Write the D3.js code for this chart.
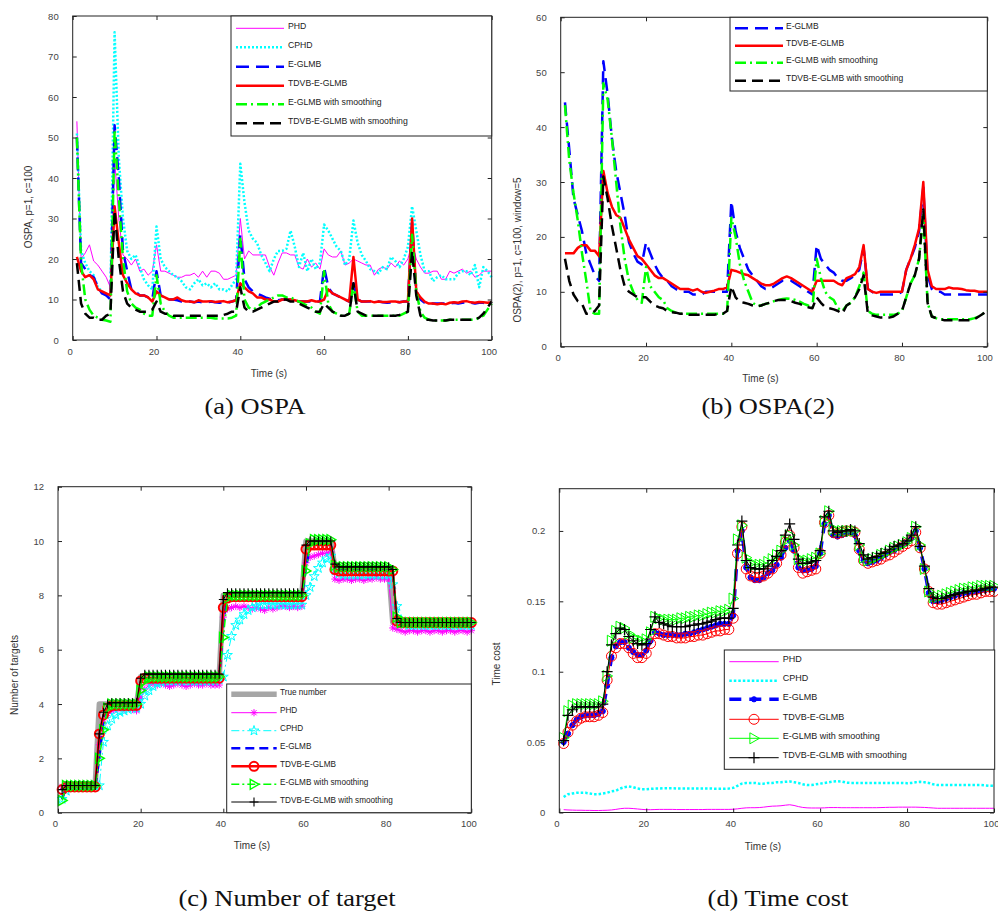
<!DOCTYPE html>
<html>
<head>
<meta charset="utf-8">
<script src="https://cdn.jsdelivr.net/npm/d3@7"></script>
<style>
  body { margin: 0; background: #fff; }
  svg { display: block; }
</style>
</head>
<body>
<div id="chart"></div>
<script>
var vWidth = 998;
var vHeight = 913;

// time steps (s)
var time = d3.range(1, 101);
var xTicks = [0, 20, 40, 60, 80, 100];

// ---------- (a) OSPA ----------
var aYTicks = [0, 10, 20, 30, 40, 50, 60, 70, 80];
var aPHD = [
  54, 20, 21.5, 23.5, 19.5, 18.5, 17, 15.5, 13, 45,
  30, 21, 20, 18.5, 20, 17, 17.5, 16, 17, 23.5,
  17, 17, 16.5, 16, 15.5, 15.5, 16, 16, 16.5, 15.5,
  17, 15.5, 17, 17, 16.5, 15, 15, 15.5, 16, 30,
  20, 22, 21, 21, 21, 21, 18, 16, 19, 21.5,
  21.5, 21, 21, 18, 17.5, 20, 18, 19, 17.5, 22.5,
  21, 20.5, 20.5, 22, 18.5, 19, 20, 19.5, 19, 18.5,
  18.5, 16, 17.5, 18, 17.5, 19, 18, 19.5, 18.5, 20,
  24, 20, 18, 16.5, 16.5, 17, 17, 15, 15, 17,
  16.5, 17, 17.5, 16.5, 17, 15.5, 16, 17, 17, 17
];
var aCPHD = [
  51, 22, 19, 17, 16, 13, 12, 11, 11, 76,
  45, 30, 22, 20, 21, 18, 15, 13.5, 12.5, 28,
  20, 18, 17, 16, 15.5, 14.5, 13, 12.5, 14, 15,
  13.5, 14, 13, 14, 12.5, 12.5, 12, 13.5, 15, 43.5,
  34, 27, 25, 24, 21, 19, 17, 20, 22, 22,
  22.5, 27, 23, 18, 21.5, 17, 20, 17.5, 19, 28.5,
  27, 25, 23, 22, 18.5, 20, 29.5, 24, 21, 19.5,
  17.5, 17, 16.5, 18, 17.5, 20.5, 19.5, 18, 20, 23,
  33, 27, 21, 17, 17, 14.5, 15.5, 16, 15, 15,
  15, 16.5, 17, 17, 16, 18.5, 13, 18, 17, 15.5
];
var aEGLMB = [
  50, 19, 17.5, 16, 15.5, 13, 11.5, 11, 10, 53,
  40, 22, 17, 12.5, 12, 11, 11, 10.5, 10, 17,
  11, 10.5, 10, 10, 9.8, 9.5, 9.5, 9.5, 9.3, 9.5,
  9.3, 9.3, 9.5, 9.3, 9.2, 9.3, 9.2, 9.5, 9.8, 26,
  15, 13, 12, 11.5, 11, 10.5, 10.2, 10, 9.8, 10,
  10, 10, 9.8, 9.5, 9.5, 9.5, 9.5, 9.5, 9.5, 18,
  13, 11.5, 11, 10.5, 10, 9.5, 14, 10, 9.5, 9.5,
  9.5, 9.3, 9.5, 9.3, 9.2, 9.3, 9.5, 9.3, 9.5, 9.5,
  29, 12, 10, 9.2, 9, 9, 9, 9, 9, 9,
  9.2, 9, 9.2, 9.3, 9.2, 9, 9.2, 9.2, 9, 9
];
var aTDVB = [
  20.5, 17, 15.5, 16, 15, 12.5, 12, 11.5, 11, 33,
  24, 16, 14, 12.5, 11.5, 11, 11, 10.5, 9.5, 12,
  11, 10.5, 10, 10, 10.5, 9.8, 9.5, 9.5, 9.3, 9.8,
  9.5, 9.5, 9.6, 9.4, 9.5, 9.6, 9.3, 9.5, 9.8, 14,
  13, 12, 11.5, 10.5, 10.5, 10, 10, 9.5, 9.5, 10,
  10, 10, 9.8, 9.5, 9.5, 9.5, 9.8, 9.5, 9.5, 10,
  12.5, 11.5, 11, 10.5, 10, 9.5, 20.5, 10, 9.5, 9.5,
  9.6, 9.3, 9.5, 9.4, 9.4, 9.5, 9.5, 9.3, 9.5, 9.5,
  30, 12, 10.5, 9.5, 9, 9, 8.8, 9, 8.8, 9.2,
  9.3, 9.2, 9.5, 9.6, 9.3, 9.2, 9.4, 9.3, 9.2, 9.3
];
var aEGLMBs = [
  50, 19, 10, 7.5, 6, 5.5, 5, 4.8, 4.5, 52,
  35, 20, 12, 9, 8, 7.5, 6.5, 6, 6, 16,
  9, 7, 6, 5.5, 5.5, 5.5, 5.5, 5.5, 5.5, 5.5,
  5.5, 5.5, 5.5, 5.3, 5.3, 5.3, 5.3, 5.5, 6, 25,
  10, 8, 7.5, 8, 9, 9.5, 10, 10.5, 11, 11,
  10.5, 10.5, 10, 9.5, 9, 8.5, 8, 7, 6.5, 17,
  9, 7, 6.5, 6, 6, 6.5, 14, 7, 6, 6,
  6, 6, 6, 6, 6, 6, 6, 6, 6.5, 7,
  26, 12, 7, 5.5, 5, 4.8, 4.8, 4.8, 4.8, 5,
  5, 5, 5, 5, 5, 5, 5.5, 6, 7.5, 9
];
var aTDVBs = [
  19, 9, 6.5, 5.5, 5.5, 5, 5, 6, 6.5, 32,
  20, 12, 9, 8, 7.5, 7, 7, 7, 7.5, 9.5,
  7, 6.5, 6.5, 6, 6, 6, 6, 6, 6, 6,
  6, 6, 6, 6, 6, 6.2, 6.5, 7, 7, 13,
  8, 7, 7, 7.5, 8, 8.5, 9, 9.5, 9.5, 10,
  10, 9.5, 9.5, 9, 8.5, 8, 7.5, 7, 7, 9,
  8, 7, 6.5, 6, 6, 6.5, 14, 7, 6.5, 6,
  6, 6, 6, 6, 6, 6, 6, 6.2, 6.5, 7,
  22, 11, 6, 5, 5, 4.8, 4.8, 4.8, 4.8, 5,
  5, 5, 5, 5, 5, 5, 5.5, 6.5, 8, 9.5
];

// ---------- (b) OSPA(2) ----------
var bYTicks = [0, 10, 20, 30, 40, 50, 60];
var bEGLMB = [
  44.5, 36, 27, 24, 21, 17, 15, 13, 12, 52,
  46, 38, 32, 28, 24, 19, 17, 15.5, 15, 19,
  17, 15, 13.5, 12.5, 12, 11, 10.5, 10, 10, 10,
  9.5, 9.5, 9.5, 10, 10, 10, 10, 10, 10, 26.5,
  21, 18, 16, 14, 13, 12, 11, 10.5, 10.5, 11,
  11.5, 12, 12, 12, 11.5, 11, 10.5, 10, 9.5, 18.5,
  16, 15, 14, 13.5, 12.5, 12, 12, 12.5, 13, 14,
  18, 10.5, 10, 9.5, 9.5, 9.5, 9.5, 9.5, 9.5, 10,
  14, 16, 18, 21, 29, 13, 10.5, 10, 10, 9.5,
  9.5, 9.5, 9.5, 9.5, 9.5, 9.5, 9.5, 9.5, 9.5, 9.5
];
var bTDVB = [
  17, 17, 17, 18, 18.5, 18.5, 17.5, 17.5, 16.5, 32,
  28, 25.5, 24, 23.5, 21.5, 19.5, 18, 16.5, 16, 15,
  14, 13, 12.5, 12.5, 12, 11.5, 11, 10.5, 10.5, 10.5,
  10.2, 10.5, 10, 9.8, 10, 10.2, 10.5, 10.5, 10.8, 14,
  13.8, 13.5, 13.2, 13, 12.5, 12, 11.5, 11.2, 11.2, 11.5,
  12, 12.5, 12.8, 12.5, 12, 11.5, 11, 10.5, 10, 12,
  12, 12, 12, 12, 11.5, 11.2, 12.5, 12.8, 13.2, 14.5,
  18.5, 10.5, 10, 9.8, 10, 10, 10, 10, 10, 10,
  14, 16, 18.5, 21.5, 30, 14, 11, 10.5, 10.5, 10.5,
  10.8, 10.6, 10.6, 10.5, 10.3, 10.2, 10.2, 10, 10, 10
];
var bEGLMBs = [
  44, 34, 28, 23, 17, 12, 6.5, 6, 6, 48,
  45, 38, 30, 22, 16, 12, 10, 8.5, 8, 14.5,
  11, 10, 9, 8.5, 7, 6.5, 6.2, 6, 6, 6,
  6, 6, 6, 6, 6, 6, 6, 6, 6.2, 23.5,
  20, 15, 12, 10, 8, 7.5, 7.5, 7.8, 8, 8.3,
  8.5, 8.7, 8.8, 8.7, 8.5, 8.2, 7.8, 7.5, 7, 16,
  12.5, 10, 9, 8.5, 7, 6.5, 7.5, 8, 9, 11,
  13.5, 6.5, 6, 5.8, 5.8, 5.8, 5.8, 5.8, 6, 6.5,
  9, 11.5, 13, 16, 24, 8, 5.5, 5.2, 5, 5,
  5, 5, 5, 5, 5, 5, 5.2, 5.5, 6, 6.5
];
var bTDVBs = [
  16, 12, 9.5, 8.3, 7.8, 6, 6, 6.5, 7.5, 31,
  27, 22, 18, 14, 11, 10, 9.5, 9, 9, 9,
  8.2, 7.5, 7.2, 7, 6.5, 6.3, 6.2, 6, 6, 5.8,
  5.8, 5.8, 5.8, 5.8, 5.8, 5.8, 6, 6, 6.5, 11,
  9, 8.2, 8, 7.8, 7.5, 7.3, 7.5, 7.8, 8, 8.3,
  8.5, 8.5, 8.5, 8.3, 8, 7.8, 7.5, 7.2, 7, 9,
  8, 7.2, 7, 6.8, 6.5, 6, 7.5, 8, 9, 10.5,
  13, 6, 5.7, 5.5, 5.3, 5.3, 5.3, 5.5, 6, 6.5,
  9, 11.5, 13, 16, 25, 8, 5.5, 5.2, 5, 4.8,
  4.8, 4.8, 4.8, 4.8, 4.8, 4.8, 5, 5.5, 6, 6.8
];

// ---------- (c) Number of targets ----------
var cYTicks = [0, 2, 4, 6, 8, 10, 12];
var cTrue = [
  1, 1, 1, 1, 1, 1, 1, 1, 1, 4,
  4, 4, 4, 4, 4, 4, 4, 4, 4, 5,
  5, 5, 5, 5, 5, 5, 5, 5, 5, 5,
  5, 5, 5, 5, 5, 5, 5, 5, 5, 8,
  8, 8, 8, 8, 8, 8, 8, 8, 8, 8,
  8, 8, 8, 8, 8, 8, 8, 8, 8, 10,
  10, 10, 10, 10, 10, 10, 9, 9, 9, 9,
  9, 9, 9, 9, 9, 9, 9, 9, 9, 9,
  7, 7, 7, 7, 7, 7, 7, 7, 7, 7,
  7, 7, 7, 7, 7, 7, 7, 7, 7, 7
];
var cPHD = [
  0.95, 1.0, 0.95, 0.98, 0.95, 1.0, 0.95, 0.97, 0.98, 2.5,
  3.3, 3.65, 3.75, 3.8, 3.85, 3.8, 3.85, 3.8, 3.75, 4.2,
  4.55, 4.7, 4.75, 4.7, 4.75, 4.7, 4.65, 4.7, 4.75, 4.7,
  4.65, 4.7, 4.75, 4.7, 4.7, 4.75, 4.7, 4.7, 4.7, 7.2,
  7.5, 7.55, 7.6, 7.55, 7.6, 7.55, 7.5, 7.55, 7.5, 7.45,
  7.55, 7.5, 7.55, 7.6, 7.6, 7.55, 7.6, 7.55, 7.6, 9.2,
  9.4, 9.45, 9.5, 9.55, 9.55, 9.6, 8.6, 8.55, 8.6, 8.6,
  8.55, 8.6, 8.6, 8.55, 8.6, 8.6, 8.65, 8.6, 8.6, 8.6,
  6.8, 6.75, 6.7, 6.65, 6.7, 6.7, 6.65, 6.7, 6.7, 6.65,
  6.7, 6.7, 6.65, 6.7, 6.7, 6.65, 6.7, 6.7, 6.65, 6.7
];
var cCPHD = [
  0.5, 0.8, 0.95, 0.95, 0.95, 0.97, 0.95, 0.96, 0.95, 1.0,
  2.6, 3.2, 3.45, 3.6, 3.7, 3.75, 3.8, 3.85, 3.85, 4.0,
  4.3, 4.5, 4.65, 4.75, 4.8, 4.85, 4.85, 4.85, 4.85, 4.85,
  4.85, 4.85, 4.85, 4.85, 4.85, 4.85, 4.85, 4.85, 4.9, 5.0,
  5.8, 6.5, 6.9, 7.1, 7.3, 7.45, 7.55, 7.6, 7.65, 7.65,
  7.65, 7.65, 7.65, 7.65, 7.65, 7.65, 7.65, 7.65, 7.65, 8.0,
  8.3, 8.7, 9.0, 9.2, 9.35, 9.45, 8.9, 8.8, 8.75, 8.75,
  8.75, 8.75, 8.75, 8.75, 8.75, 8.75, 8.75, 8.75, 8.75, 8.75,
  8.4, 7.6, 7.1, 6.95, 6.9, 6.9, 6.9, 6.9, 6.9, 6.9,
  6.9, 6.9, 6.9, 6.9, 6.9, 6.9, 6.9, 6.9, 6.9, 6.9
];
var cEGLMB = [
  0.5, 0.95, 0.95, 0.95, 0.95, 0.95, 0.95, 0.95, 0.95, 2.0,
  3.5, 3.95, 3.95, 3.95, 3.95, 3.95, 3.95, 3.95, 3.95, 4.8,
  4.95, 4.95, 4.95, 4.95, 4.95, 4.95, 4.95, 4.95, 4.95, 4.95,
  4.95, 4.95, 4.95, 4.95, 4.95, 4.95, 4.95, 4.95, 4.95, 7.0,
  7.95, 7.95, 7.95, 7.95, 7.95, 7.95, 7.95, 7.95, 7.95, 7.95,
  7.95, 7.95, 7.95, 7.95, 7.95, 7.95, 7.95, 7.95, 7.95, 9.0,
  9.9, 9.9, 9.9, 9.9, 9.9, 9.9, 8.95, 8.95, 8.95, 8.95,
  8.95, 8.95, 8.95, 8.95, 8.95, 8.95, 8.95, 8.95, 8.95, 8.95,
  8.9, 7.0, 7.0, 7.0, 7.0, 7.0, 7.0, 7.0, 7.0, 7.0,
  7.0, 7.0, 7.0, 7.0, 7.0, 7.0, 7.0, 7.0, 7.0, 7.0
];
var cTDVB = [
  0.85, 0.95, 0.95, 0.95, 0.95, 0.95, 0.95, 0.95, 0.95, 2.9,
  3.6, 3.85, 3.95, 3.95, 3.95, 3.95, 3.95, 3.95, 3.95, 4.85,
  4.95, 4.95, 4.95, 4.95, 4.95, 4.95, 4.95, 4.95, 4.95, 4.95,
  4.95, 4.95, 4.95, 4.95, 4.95, 4.95, 4.95, 4.95, 4.95, 7.55,
  7.9, 7.95, 7.95, 7.95, 7.95, 7.95, 7.95, 7.95, 7.95, 7.95,
  7.95, 7.95, 7.95, 7.95, 7.95, 7.95, 7.95, 7.95, 7.95, 9.7,
  9.85, 9.85, 9.85, 9.85, 9.85, 9.85, 8.95, 8.9, 8.9, 8.9,
  8.9, 8.9, 8.9, 8.9, 8.9, 8.9, 8.9, 8.9, 8.9, 8.9,
  8.9, 7.05, 7.0, 7.0, 7.0, 7.0, 7.0, 7.0, 7.0, 7.0,
  7.0, 7.0, 7.0, 7.0, 7.0, 7.0, 7.0, 7.0, 7.0, 7.0
];
var cEGLMBs = [
  0.45, 1.0, 1.0, 1.0, 1.0, 1.0, 1.0, 1.0, 1.0, 2.0,
  3.05, 3.85, 4.0, 4.0, 4.0, 4.0, 4.0, 4.0, 4.0, 4.5,
  4.85, 5.0, 5.0, 5.0, 5.0, 5.0, 5.0, 5.0, 5.0, 5.0,
  5.0, 5.0, 5.0, 5.0, 5.0, 5.0, 5.0, 5.0, 5.0, 6.45,
  7.9, 8.0, 8.0, 8.0, 8.0, 8.0, 8.0, 8.0, 8.0, 8.0,
  8.0, 8.0, 8.0, 8.0, 8.0, 8.0, 8.0, 8.0, 8.0, 8.9,
  9.9, 10.05, 10.05, 10.05, 10.05, 10.05, 9.1, 9.05, 9.05, 9.05,
  9.05, 9.05, 9.05, 9.05, 9.05, 9.05, 9.05, 9.05, 9.05, 9.05,
  8.95, 7.2, 7.0, 7.0, 7.0, 7.0, 7.0, 7.0, 7.0, 7.0,
  7.0, 7.0, 7.0, 7.0, 7.0, 7.0, 7.0, 7.0, 7.0, 7.0
];
var cTDVBs = [
  0.85, 1.0, 1.0, 1.0, 1.0, 1.0, 1.0, 1.0, 1.0, 2.9,
  3.7, 4.0, 4.05, 4.05, 4.05, 4.05, 4.05, 4.05, 4.05, 4.95,
  5.1, 5.1, 5.1, 5.1, 5.1, 5.1, 5.1, 5.1, 5.1, 5.1,
  5.1, 5.1, 5.1, 5.1, 5.1, 5.1, 5.1, 5.1, 5.1, 7.85,
  8.1, 8.1, 8.1, 8.1, 8.1, 8.1, 8.1, 8.1, 8.1, 8.1,
  8.1, 8.1, 8.1, 8.1, 8.1, 8.1, 8.1, 8.1, 8.1, 9.85,
  10.0, 10.0, 10.0, 10.0, 10.0, 10.0, 9.15, 9.05, 9.05, 9.05,
  9.05, 9.05, 9.05, 9.05, 9.05, 9.05, 9.05, 9.05, 9.05, 9.05,
  8.95, 7.15, 7.0, 7.0, 7.0, 7.0, 7.0, 7.0, 7.0, 7.0,
  7.0, 7.0, 7.0, 7.0, 7.0, 7.0, 7.0, 7.0, 7.0, 7.0
];

// ---------- (d) Time cost ----------
var dYTicks = [0, 0.05, 0.1, 0.15, 0.2];
var dPHD = [
  0.002, 0.0018, 0.0017, 0.0016, 0.0016, 0.0015, 0.0015, 0.0014, 0.0014, 0.0015,
  0.0016, 0.0018, 0.0022, 0.0027, 0.003, 0.003, 0.0028, 0.0025, 0.0022, 0.002,
  0.002, 0.0021, 0.0022, 0.0022, 0.0022, 0.0022, 0.0021, 0.0021, 0.0021, 0.0021,
  0.0021, 0.0021, 0.0021, 0.0022, 0.0022, 0.0022, 0.0022, 0.0022, 0.0022, 0.0023,
  0.0026, 0.003, 0.0033, 0.0034, 0.0034, 0.0035, 0.0038, 0.0042, 0.0045, 0.0046,
  0.0048, 0.0052, 0.0055, 0.005, 0.0042, 0.0036, 0.0033, 0.0032, 0.0032, 0.0032,
  0.0033, 0.0035, 0.0035, 0.0035, 0.0034, 0.0034, 0.0034, 0.0034, 0.0034, 0.0034,
  0.0034, 0.0034, 0.0034, 0.0035, 0.0036, 0.0037, 0.0037, 0.0038, 0.0038, 0.0038,
  0.0038, 0.0038, 0.0037, 0.0036, 0.0034, 0.0032, 0.003, 0.003, 0.003, 0.003,
  0.003, 0.003, 0.003, 0.003, 0.003, 0.003, 0.003, 0.003, 0.003, 0.003
];
var dCPHD = [
  0.011, 0.013, 0.0135, 0.014, 0.014, 0.014, 0.0135, 0.013, 0.013, 0.0135,
  0.014, 0.015, 0.0155, 0.017, 0.018, 0.0185, 0.018, 0.017, 0.0165, 0.0165,
  0.0168, 0.017, 0.017, 0.0172, 0.0172, 0.0172, 0.017, 0.017, 0.017, 0.017,
  0.017, 0.017, 0.017, 0.017, 0.017, 0.0168, 0.0168, 0.0168, 0.017, 0.0175,
  0.019, 0.0205, 0.021, 0.021, 0.021, 0.0205, 0.0205, 0.021, 0.021, 0.0215,
  0.0215, 0.0218, 0.022, 0.0215, 0.021, 0.02, 0.0195, 0.0195, 0.02, 0.0205,
  0.021, 0.0215, 0.022, 0.0222, 0.022, 0.0212, 0.021, 0.021, 0.021, 0.021,
  0.021, 0.021, 0.021, 0.021, 0.021, 0.021, 0.021, 0.021, 0.021, 0.0208,
  0.021, 0.0215, 0.0218, 0.0215, 0.021, 0.02, 0.0195, 0.0195, 0.0195, 0.0195,
  0.0195, 0.0195, 0.0195, 0.0195, 0.0195, 0.0195, 0.0195, 0.0193, 0.019, 0.019
];
var dEGLMB = [
  0.05, 0.056, 0.062, 0.066, 0.068, 0.069, 0.069, 0.069, 0.07, 0.072,
  0.09, 0.11, 0.118, 0.121, 0.121, 0.117, 0.114, 0.112, 0.112, 0.115,
  0.122, 0.128, 0.127, 0.126, 0.126, 0.126, 0.126, 0.126, 0.127, 0.127,
  0.128, 0.129, 0.13, 0.131, 0.132, 0.133, 0.134, 0.134, 0.134, 0.14,
  0.186, 0.2, 0.174, 0.167, 0.165, 0.165, 0.167, 0.17, 0.172, 0.176,
  0.181, 0.188, 0.193, 0.186, 0.174, 0.172, 0.172, 0.173, 0.175, 0.184,
  0.205, 0.211, 0.197, 0.196, 0.197, 0.198, 0.199, 0.197, 0.186, 0.179,
  0.177, 0.178, 0.179, 0.181, 0.183, 0.185, 0.186, 0.188, 0.19, 0.192,
  0.195, 0.2, 0.188, 0.173, 0.156, 0.15, 0.15, 0.151, 0.152, 0.153,
  0.154, 0.155, 0.156, 0.156, 0.157, 0.157, 0.158, 0.158, 0.159, 0.159
];
var dTDVB = [
  0.049, 0.057, 0.062, 0.065, 0.067, 0.068, 0.068, 0.068, 0.069, 0.071,
  0.094, 0.111, 0.117, 0.12, 0.12, 0.117, 0.113, 0.11, 0.11, 0.113,
  0.12, 0.127, 0.127, 0.126, 0.125, 0.125, 0.124, 0.124, 0.124, 0.125,
  0.125, 0.126, 0.126, 0.127, 0.128, 0.129, 0.129, 0.13, 0.13, 0.138,
  0.184, 0.203, 0.173, 0.168, 0.167, 0.167, 0.168, 0.17, 0.173, 0.177,
  0.183, 0.192, 0.197, 0.188, 0.174, 0.17, 0.171, 0.172, 0.173, 0.184,
  0.206, 0.211, 0.199, 0.198, 0.199, 0.2, 0.2, 0.199, 0.187, 0.179,
  0.177, 0.178, 0.179, 0.18, 0.182, 0.183, 0.185, 0.187, 0.189, 0.191,
  0.193, 0.199, 0.188, 0.173, 0.157, 0.149, 0.148, 0.148, 0.149, 0.15,
  0.151, 0.152, 0.153, 0.154, 0.155, 0.155, 0.156, 0.157, 0.157, 0.157
];
var dEGLMBs = [
  0.053, 0.072, 0.076, 0.077, 0.077, 0.077, 0.077, 0.077, 0.077, 0.079,
  0.097, 0.122, 0.129, 0.132, 0.131, 0.127, 0.124, 0.123, 0.122, 0.123,
  0.128, 0.139, 0.138, 0.137, 0.137, 0.137, 0.137, 0.138, 0.138, 0.139,
  0.139, 0.14, 0.14, 0.141, 0.142, 0.142, 0.143, 0.143, 0.144, 0.152,
  0.194, 0.204, 0.181, 0.177, 0.176, 0.176, 0.176, 0.178, 0.18, 0.183,
  0.186, 0.193, 0.197, 0.19, 0.18, 0.179, 0.179, 0.18, 0.181, 0.184,
  0.207, 0.214, 0.201, 0.2, 0.2, 0.2, 0.2, 0.2, 0.19, 0.181,
  0.179, 0.18, 0.181, 0.183, 0.184, 0.186, 0.188, 0.189, 0.19, 0.192,
  0.195, 0.203, 0.19, 0.173, 0.157, 0.153, 0.153, 0.154, 0.155, 0.156,
  0.157, 0.158, 0.159, 0.159, 0.16, 0.16, 0.161, 0.161, 0.161, 0.161
];
var dTDVBs = [
  0.051, 0.069, 0.073, 0.075, 0.075, 0.075, 0.075, 0.075, 0.075, 0.077,
  0.1, 0.119, 0.127, 0.131, 0.13, 0.125, 0.122, 0.12, 0.119, 0.12,
  0.13, 0.139, 0.135, 0.134, 0.133, 0.132, 0.132, 0.132, 0.132, 0.133,
  0.133, 0.134, 0.134, 0.135, 0.136, 0.137, 0.138, 0.138, 0.138, 0.145,
  0.19, 0.207, 0.179, 0.174, 0.173, 0.173, 0.173, 0.175, 0.179, 0.182,
  0.186, 0.197, 0.205, 0.194, 0.18, 0.177, 0.177, 0.178, 0.179, 0.186,
  0.21, 0.214, 0.2, 0.199, 0.2, 0.2, 0.201, 0.2, 0.191, 0.183,
  0.18, 0.181, 0.182, 0.184, 0.185, 0.187, 0.189, 0.19, 0.191, 0.193,
  0.197, 0.203, 0.189, 0.175, 0.159, 0.153, 0.152, 0.152, 0.153, 0.154,
  0.155, 0.156, 0.156, 0.157, 0.157, 0.158, 0.158, 0.159, 0.16, 0.16
];

var svg = d3.select('#chart')
  .append('svg')
  .attr('width', vWidth)
  .attr('height', vHeight)
  .style('font-family', '"Liberation Sans", Arial, sans-serif');

// marker shapes, centred on 0,0
function markerPath(type, s) {
  if (type === 'plus') return 'M' + (-s) + ',0H' + s + 'M0,' + (-s) + 'V' + s;
  if (type === 'asterisk') {
    var k = s * 0.72;
    return 'M' + (-s) + ',0H' + s + 'M0,' + (-s) + 'V' + s +
      'M' + (-k) + ',' + (-k) + 'L' + k + ',' + k + 'M' + (-k) + ',' + k + 'L' + k + ',' + (-k);
  }
  if (type === 'circle' || type === 'dot') return d3.symbol(d3.symbolCircle, Math.PI * s * s)();
  if (type === 'star') return d3.symbol(d3.symbolStar, s * s / 0.8908)();
  if (type === 'tri') return 'M' + (-s * 0.75) + ',' + (-s) + 'L' + s + ',0L' + (-s * 0.75) + ',' + s + 'Z';
  return '';
}

function styleStroke(sel, s) {
  sel.attr('fill', 'none')
    .attr('stroke', s.color)
    .attr('stroke-width', s.width)
    .attr('stroke-dasharray', s.dash || null)
    .attr('stroke-linejoin', 'round');
}

function drawMarkers(g, pts, s) {
  g.append('g').selectAll('path')
    .data(pts)
    .enter()
    .append('path')
    .attr('transform', function (d) { return 'translate(' + d[0] + ',' + d[1] + ')'; })
    .attr('d', markerPath(s.marker, s.msize))
    .attr('fill', s.marker === 'dot' ? s.color : 'none')
    .attr('stroke', s.color)
    .attr('stroke-width', s.mwidth || 1);
}

function drawPanel(p) {
  var x = d3.scaleLinear().domain([0, 100]).range([p.left, p.right]);
  var y = d3.scaleLinear().domain([0, p.yMax]).range([p.bottom, p.top]);
  var g = svg.append('g');

  var line = d3.line().x(function (d) { return x(d.t); }).y(function (d) { return y(d.v); });

  p.series.forEach(function (s) {
    var pts = time.map(function (t, i) { return { t: t, v: s.values[i] }; });
    g.append('path').datum(pts).attr('d', line).call(styleStroke, s);
    if (s.marker) {
      drawMarkers(g, pts.map(function (d) { return [x(d.t), y(d.v)]; }), s);
    }
  });

  // axes, ticks pointing inwards on all four sides
  var fmt = function (d) { return String(d); };
  var ax = g.append('g').attr('transform', 'translate(0,' + p.bottom + ')')
    .call(d3.axisBottom(x).tickValues(xTicks).tickFormat(fmt).tickSize(-4).tickPadding(8));
  ax.selectAll('text').attr('dx', -3);
  g.append('g').attr('transform', 'translate(0,' + p.top + ')')
    .call(d3.axisTop(x).tickValues(xTicks).tickFormat('').tickSize(-4));
  g.append('g').attr('transform', 'translate(' + p.left + ',0)')
    .call(d3.axisLeft(y).tickValues(p.yTicks).tickFormat(fmt).tickSize(-4).tickPadding(14));
  g.append('g').attr('transform', 'translate(' + p.right + ',0)')
    .call(d3.axisRight(y).tickValues(p.yTicks).tickFormat('').tickSize(-4));

  g.selectAll('.domain').remove();
  g.selectAll('.tick line').attr('stroke', '#222');
  g.selectAll('.tick text').attr('fill', '#444').attr('font-size', 9.5)
    .attr('font-family', '"Liberation Sans", Arial, sans-serif');

  g.append('rect')
    .attr('x', p.left).attr('y', p.top)
    .attr('width', p.right - p.left).attr('height', p.bottom - p.top)
    .attr('fill', 'none').attr('stroke', '#222').attr('stroke-width', 1);

  // axis titles
  g.append('text')
    .attr('x', p.xLabel[0]).attr('y', p.xLabel[1])
    .attr('text-anchor', 'middle').attr('font-size', 10).attr('fill', '#333')
    .text('Time (s)');
  g.append('text')
    .attr('transform', 'translate(' + p.yLabel[0] + ',' + p.yLabel[1] + ') rotate(-90)')
    .attr('text-anchor', 'middle').attr('font-size', 10).attr('fill', '#333')
    .text(p.yTitle);

  // legend
  var L = p.legend;
  var lg = g.append('g');
  lg.append('rect')
    .attr('x', L.x0).attr('y', L.y0)
    .attr('width', L.x1 - L.x0).attr('height', L.y1 - L.y0)
    .attr('fill', '#fff').attr('stroke', '#222').attr('stroke-width', 1);
  var entries = p.legendSeries || p.series;
  entries.forEach(function (s, i) {
    var ly = L.rows[i];
    lg.append('line')
      .attr('x1', L.sx0).attr('x2', L.sx1).attr('y1', ly).attr('y2', ly)
      .call(styleStroke, s);
    if (s.marker) drawMarkers(lg, [[(L.sx0 + L.sx1) / 2, ly]], s);
    lg.append('text')
      .attr('x', L.tx).attr('y', ly + 0.5)
      .attr('font-size', L.font).attr('fill', '#222')
      .text(s.name);
  });

  // caption under the panel
  svg.append('text')
    .attr('transform', 'translate(' + p.caption[0] + ',' + p.caption[1] + ') scale(1.1,1)')
    .attr('text-anchor', 'middle')
    .attr('font-family', '"Liberation Serif", "Times New Roman", serif')
    .attr('font-size', 24).attr('fill', '#111')
    .text(p.captionText);
}

// ---- panel (a)
drawPanel({
  left: 72.7, right: 491.7, top: 16, bottom: 340, yMax: 80, yTicks: aYTicks,
  xLabel: [269, 377], yLabel: [31.5, 207], yTitle: 'OSPA, p=1, c=100',
  caption: [255, 414], captionText: '(a) OSPA',
  legend: { x0: 231, x1: 491.7, y0: 16, y1: 136, sx0: 236, sx1: 284, tx: 288, font: 8.7,
            rows: [28.3, 47.3, 66.7, 85.7, 104.3, 123.3] },
  series: [
    { name: 'PHD', values: aPHD, color: '#ff00ff', width: 1 },
    { name: 'CPHD', values: aCPHD, color: '#00ffff', width: 2.5, dash: '2 2' },
    { name: 'E-GLMB', values: aEGLMB, color: '#0000ff', width: 2.5, dash: '13 7' },
    { name: 'TDVB-E-GLMB', values: aTDVB, color: '#ff0000', width: 2.5 },
    { name: 'E-GLMB with smoothing', values: aEGLMBs, color: '#00ff00', width: 2.5, dash: '11 4 2 4' },
    { name: 'TDVB-E-GLMB with smoothing', values: aTDVBs, color: '#000000', width: 2.5, dash: '11 6' }
  ]
});

// ---- panel (b)
drawPanel({
  left: 560.7, right: 987.3, top: 17.3, bottom: 346.7, yMax: 60, yTicks: bYTicks,
  xLabel: [760.5, 382], yLabel: [521, 250], yTitle: 'OSPA(2), p=1, c=100, window=5',
  caption: [768, 414], captionText: '(b) OSPA(2)',
  legend: { x0: 730, x1: 987.3, y0: 17.3, y1: 91, sx0: 735, sx1: 783, tx: 786, font: 8.5,
            rows: [28.3, 45.7, 62.7, 80.7] },
  series: [
    { name: 'E-GLMB', values: bEGLMB, color: '#0000ff', width: 2.5, dash: '13 7' },
    { name: 'TDVB-E-GLMB', values: bTDVB, color: '#ff0000', width: 2.5 },
    { name: 'E-GLMB with smoothing', values: bEGLMBs, color: '#00ff00', width: 2.5, dash: '11 4 2 4' },
    { name: 'TDVB-E-GLMB with smoothing', values: bTDVBs, color: '#000000', width: 2.5, dash: '11 6' }
  ]
});

// ---- panel (c)
drawPanel({
  left: 58, right: 471.3, top: 486.7, bottom: 812.7, yMax: 12, yTicks: cYTicks,
  xLabel: [252, 849], yLabel: [18, 675], yTitle: 'Number of targets',
  caption: [287, 905.5], captionText: '(c) Number of target',
  legend: { x0: 226.7, x1: 471.3, y0: 684, y1: 812.7, sx0: 231.3, sx1: 276.7, tx: 280, font: 8.2,
            rows: [694.3, 712.7, 730.7, 748.3, 766.3, 784.3, 802] },
  series: [
    { name: 'True number', values: cTrue, color: '#a6a6a6', width: 5.5 },
    { name: 'PHD', values: cPHD, color: '#ff00ff', width: 1, marker: 'asterisk', msize: 3.6 },
    { name: 'CPHD', values: cCPHD, color: '#00ffff', width: 1, dash: '8 3 2 3', marker: 'star', msize: 5.2 },
    { name: 'E-GLMB', values: cEGLMB, color: '#0000ff', width: 2.5, dash: '9 5' },
    { name: 'TDVB-E-GLMB', values: cTDVB, color: '#ff0000', width: 2.5, marker: 'circle', msize: 4.5, mwidth: 2 },
    { name: 'E-GLMB with smoothing', values: cEGLMBs, color: '#00ff00', width: 1.5, dash: '8 3 2 3', marker: 'tri', msize: 5, mwidth: 1.4 },
    { name: 'TDVB-E-GLMB with smoothing', values: cTDVBs, color: '#000000', width: 1, marker: 'plus', msize: 4.5, mwidth: 1.1 }
  ]
});

// ---- panel (d)
drawPanel({
  left: 559.3, right: 994, top: 488.7, bottom: 812.5, yMax: 0.23, yTicks: dYTicks,
  xLabel: [763, 850], yLabel: [500, 664], yTitle: 'Time cost',
  caption: [778, 905.5], captionText: '(d) Time cost',
  legend: { x0: 724.3, x1: 994.7, y0: 650, y1: 769.3, sx0: 729.3, sx1: 778.7, tx: 782.7, font: 9,
            rows: [661.7, 680.7, 699.3, 719.3, 738.3, 757.7] },
  series: [
    { name: 'PHD', values: dPHD, color: '#ff00ff', width: 1 },
    { name: 'CPHD', values: dCPHD, color: '#00ffff', width: 2.5, dash: '2.5 2' },
    { name: 'E-GLMB', values: dEGLMB, color: '#0000ff', width: 3.5, dash: '12 8', marker: 'dot', msize: 2.6 },
    { name: 'TDVB-E-GLMB', values: dTDVB, color: '#ff0000', width: 1, marker: 'circle', msize: 5, mwidth: 1 },
    { name: 'E-GLMB with smoothing', values: dEGLMBs, color: '#00ff00', width: 1, marker: 'tri', msize: 5.5, mwidth: 1 },
    { name: 'TDVB-E-GLMB with smoothing', values: dTDVBs, color: '#000000', width: 1, marker: 'plus', msize: 5.5, mwidth: 1.2 }
  ]
});
</script>
</body>
</html>
